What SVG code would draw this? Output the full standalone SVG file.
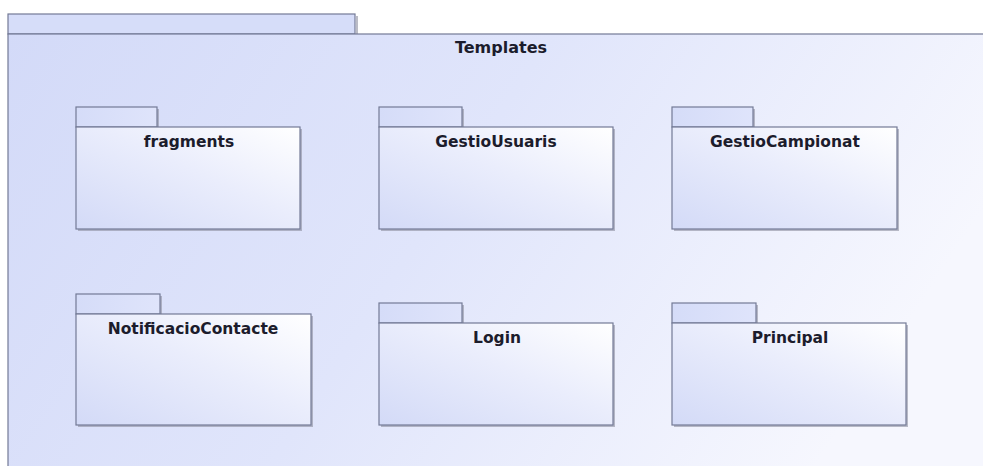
<svg xmlns="http://www.w3.org/2000/svg" width="983" height="466" viewBox="0 0 983 466">
<defs>
<linearGradient id="gOuter" x1="0" y1="0" x2="1" y2="0.3">
<stop offset="0" stop-color="#d3daf8"/>
<stop offset="0.5" stop-color="#e0e5fb"/>
<stop offset="1" stop-color="#f6f7fe"/>
</linearGradient>
<linearGradient id="gBox" x1="0" y1="1" x2="1" y2="0">
<stop offset="0" stop-color="#d3daf7"/>
<stop offset="0.55" stop-color="#eaedfc"/>
<stop offset="1" stop-color="#ffffff"/>
</linearGradient>
<linearGradient id="gTab" x1="0" y1="0" x2="1" y2="0">
<stop offset="0" stop-color="#d5dcf8"/>
<stop offset="1" stop-color="#dfe4fb"/>
</linearGradient>
</defs>
<style>
.shadow{fill:#8e90a0;opacity:0.6}
.box{fill:url(#gBox);stroke:#737a96;stroke-width:1.2}
.tab{fill:url(#gTab);stroke:#737a96;stroke-width:1.2}
.lbl{font-family:"DejaVu Sans",sans-serif;font-weight:bold;font-size:15.5px;fill:#1c1c2c;text-anchor:middle}
.title{font-size:16px}
</style>
<rect width="983" height="466" fill="#ffffff"/>
<g id="Templates">
<rect class="shadow" x="356" y="16" width="2" height="18"/>
<rect x="8" y="14" width="347" height="20" fill="#d6ddf9" stroke="#737a96" stroke-width="1.2"/>
<rect x="8" y="34" width="1000" height="460" fill="url(#gOuter)" stroke="#737a96" stroke-width="1.2"/>
<text class="lbl title" x="501" y="53">Templates</text>
</g>
<g id="fragments">
<rect class="shadow" x="78" y="129" width="224" height="102"/>
<rect class="shadow" x="78" y="109" width="81" height="20"/>
<rect class="tab" x="76" y="107" width="81" height="20"/>
<rect class="box" x="76" y="127" width="224" height="102"/>
<text class="lbl" x="189" y="147">fragments</text>
</g>
<g id="GestioUsuaris">
<rect class="shadow" x="381" y="129" width="234" height="102"/>
<rect class="shadow" x="381" y="109" width="83" height="20"/>
<rect class="tab" x="379" y="107" width="83" height="20"/>
<rect class="box" x="379" y="127" width="234" height="102"/>
<text class="lbl" x="496" y="147">GestioUsuaris</text>
</g>
<g id="GestioCampionat">
<rect class="shadow" x="674" y="129" width="225" height="102"/>
<rect class="shadow" x="674" y="109" width="81" height="20"/>
<rect class="tab" x="672" y="107" width="81" height="20"/>
<rect class="box" x="672" y="127" width="225" height="102"/>
<text class="lbl" x="785" y="147">GestioCampionat</text>
</g>
<g id="NotificacioContacte">
<rect class="shadow" x="78" y="316" width="235" height="111"/>
<rect class="shadow" x="78" y="296" width="84" height="20"/>
<rect class="tab" x="76" y="294" width="84" height="20"/>
<rect class="box" x="76" y="314" width="235" height="111"/>
<text class="lbl" x="193" y="334">NotificacioContacte</text>
</g>
<g id="Login">
<rect class="shadow" x="381" y="325" width="234" height="102"/>
<rect class="shadow" x="381" y="305" width="83" height="20"/>
<rect class="tab" x="379" y="303" width="83" height="20"/>
<rect class="box" x="379" y="323" width="234" height="102"/>
<text class="lbl" x="497" y="343">Login</text>
</g>
<g id="Principal">
<rect class="shadow" x="674" y="325" width="234" height="102"/>
<rect class="shadow" x="674" y="305" width="84" height="20"/>
<rect class="tab" x="672" y="303" width="84" height="20"/>
<rect class="box" x="672" y="323" width="234" height="102"/>
<text class="lbl" x="790" y="343">Principal</text>
</g>
<g id="connectors"/>
</svg>
